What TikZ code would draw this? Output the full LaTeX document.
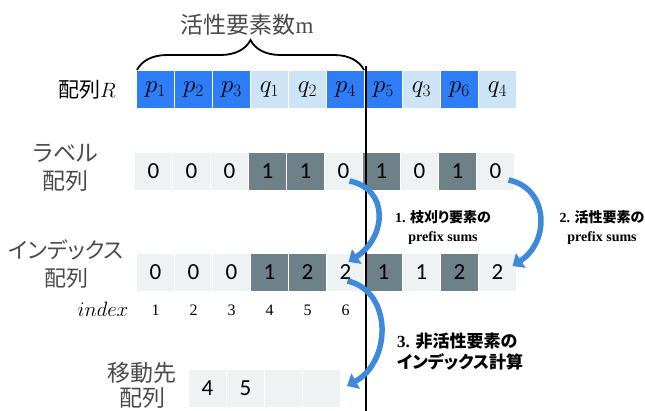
\documentclass[tikz,border=0pt]{standalone}
\usepackage{fontspec}
\setmainfont{Liberation Serif}
\newfontfamily\jpfont[RawFeature=+palt]{Noto Sans CJK JP}
\newfontfamily\calfont{Carlito}
\usetikzlibrary{decorations.pathreplacing,arrows.meta}
\definecolor{dblue}{HTML}{2E7DF6}
\definecolor{lblue}{HTML}{CCE4F5}
\definecolor{lgray}{HTML}{EEF2F3}
\definecolor{dgray}{HTML}{6E8189}
\definecolor{txtgray}{HTML}{4A4A4A}
\definecolor{arrblue}{HTML}{3F8AD8}
\begin{document}
\begin{tikzpicture}[x=1pt,y=-1pt,
  cell/.style={minimum width=36.5pt,minimum height=37pt,inner sep=0pt},
  rcell/.style={cell,font=\fontsize{26}{28}\selectfont},
  ncell/.style={cell,font=\calfont\fontsize{23}{24}\selectfont},
  jlabel/.style={font=\jpfont\fontsize{23}{28}\selectfont,text=txtgray,align=center,inner sep=0pt},
  steplabel/.style={font=\bfseries\fontsize{14}{19}\selectfont,align=center,inner sep=0pt},
  arr/.style={draw=arrblue,line width=5.5pt,-{Triangle[width=17pt,length=10pt]}},
]
\useasboundingbox (0,0) rectangle (645,410);
% array R
\foreach \t/\c [count=\i] in {p_1/dblue,p_2/dblue,p_3/dblue,q_1/lblue,q_2/lblue,p_4/dblue,p_5/dblue,q_3/lblue,p_6/dblue,q_4/lblue}
  \node[rcell,fill=\c] (r\i) at ({155.5+38*(\i-1)},89.5) {$\t$};
% label array
\foreach \t/\c [count=\i] in {0/lgray,0/lgray,0/lgray,1/dgray,1/dgray,0/lgray,1/dgray,0/lgray,1/dgray,0/lgray}
  \node[ncell,fill=\c] (l\i) at ({153.5+38*(\i-1)},171) {\t};
% index array
\foreach \t/\c [count=\i] in {0/lgray,0/lgray,0/lgray,1/dgray,2/dgray,2/lgray,1/dgray,1/lgray,2/dgray,2/lgray}
  \node[ncell,fill=\c] (x\i) at ({155.5+38*(\i-1)},272) {\t};
% index numbers
\foreach \i in {1,...,6}
  \node[font=\fontsize{16}{18}\selectfont] (n\i) at ({155.5+38*(\i-1)},310) {\i};
\node[font=\fontsize{21}{22}\selectfont] (idx) at (103,309) {$index$};
% destination array
\foreach \t [count=\i] in {4,5,{},{}}
  \node[ncell,fill=lgray] (d\i) at ({207.5+38*(\i-1)},388) {\t};
% row labels
\node[font=\jpfont\fontsize{21}{24}\selectfont,inner sep=0pt] (lblR) at (87,90) {配列$R$};
\node[jlabel] (lblL) at (66,168) {ラベル\\配列};
\node[jlabel,font=\jpfont\fontsize{22}{28}\selectfont] (lblX) at (66,264) {インデックス\\配列};
\node[jlabel,font=\jpfont\fontsize{23}{25}\selectfont] (lblD) at (142,385) {移動先\\配列};
% brace and title
\coordinate (bl) at (137,70);
\coordinate (br) at (364,70);
\draw[decorate,decoration={brace,amplitude=30pt},line width=1.8pt] (bl) -- (br);
\node[font=\jpfont\fontsize{23}{28}\selectfont,text=txtgray] (title) at (247,25) {活性要素数{\rmfamily m}};
% vertical line
\coordinate (vt) at (365.5,66);
\coordinate (vb) at (365.5,412);
\draw[line width=2pt] (vt) -- (vb);
% arrows
\draw[arr] ([shift={(6,10)}]l6.center) .. controls +(40,8) and +(38,-25) .. ([shift={(3,-10)}]x6.center);
\draw[arr] ([shift={(13,9)}]l10.center) .. controls +(40,8) and +(38,-25) .. ([shift={(15,-6)}]x10.center);
\draw[arr] ([shift={(2,9)}]x6.center) .. controls +(45,10) and +(45,-25) .. ([shift={(7,-2)}]d4.east);
% step labels
\node[steplabel] (s1) at (443,227) {1. {\jpfont\bfseries 枝刈り要素の}\\prefix sums};
\node[steplabel] (s2) at (602,227) {2. {\jpfont\bfseries 活性要素の}\\prefix sums};
\node[steplabel,font=\bfseries\fontsize{17}{21}\selectfont,align=left,anchor=west] (s3) at (397,352) {3. {\jpfont\bfseries 非活性要素の}\\{\jpfont\bfseries インデックス計算}};
\end{tikzpicture}
\end{document}
